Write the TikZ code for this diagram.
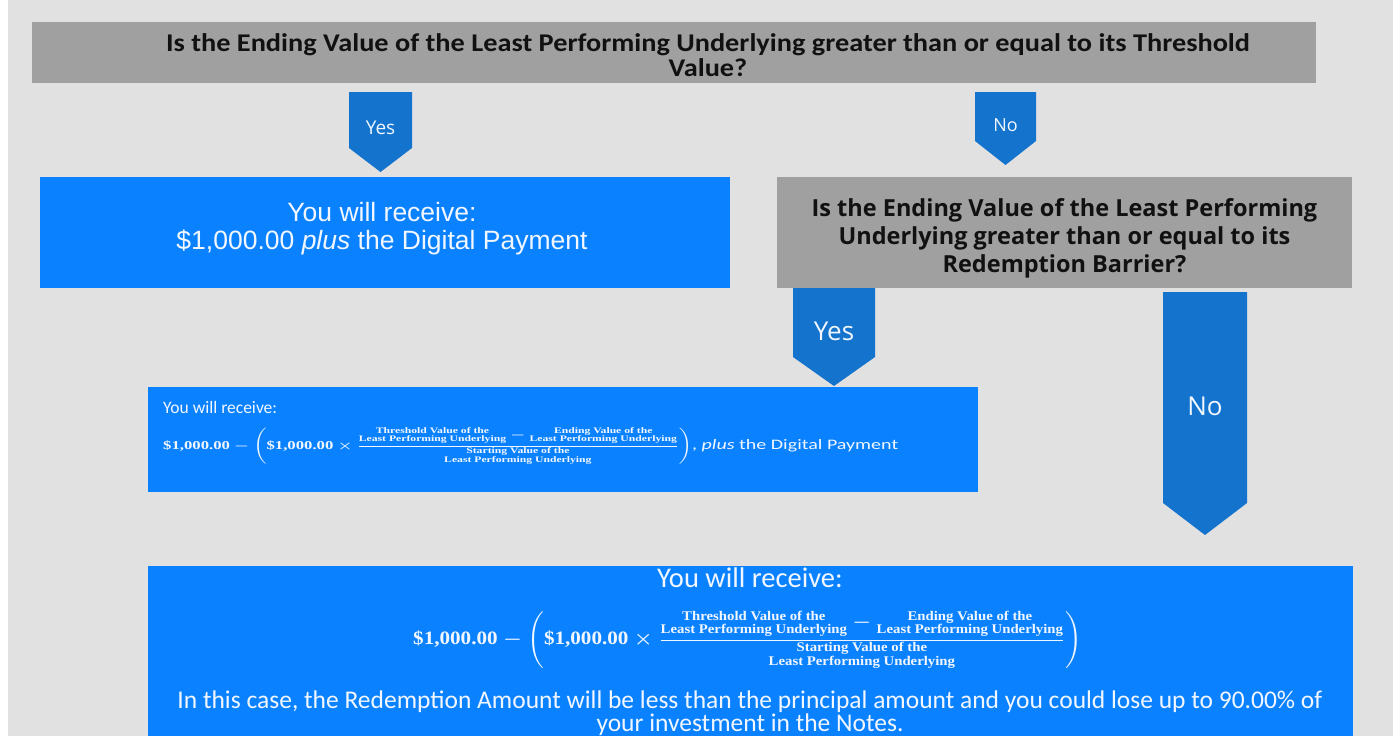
\documentclass[tikz,border=0pt]{standalone}
\usepackage{amsmath}
\usepackage{graphicx}
\usepackage{fontspec}
\setmainfont{Liberation Serif}
\newfontfamily\calib{Carlito}
\newfontfamily\osans{Open Sans}
\newfontfamily\arialf{Liberation Sans}
\definecolor{bgc}{HTML}{E1E1E1}
\definecolor{qgray}{HTML}{A0A0A0}
\definecolor{boxblue}{HTML}{0A82FF}
\definecolor{arrblue}{HTML}{1373CD}
\definecolor{txtw}{HTML}{F2F7FF}
\definecolor{txtk}{HTML}{111111}
\newcommand\twol[1]{{\renewcommand\arraystretch{0.85}\begin{tabular}{@{}c@{}}#1\end{tabular}}}
\newcommand\payformula{%
 {\bfseries\boldmath
 $\text{\$1,000.00}-\left(\text{\$1,000.00}\times
 \dfrac{\text{\scriptsize\twol{Threshold Value of the\\Least Performing Underlying}}-\text{\scriptsize\twol{Ending Value of the\\Least Performing Underlying}}}{\text{\scriptsize\twol{Starting Value of the\\Least Performing Underlying}}}\right)$}}
\newcommand\blockarrow[5]{% xl, xr, ytop, yshaft, ytip
 \fill[arrblue] (#1,#3) -- (#2,#3) -- (#2,#4) -- ({(#1+#2)/2},#5) -- (#1,#4) -- cycle;}
\begin{document}
\begin{tikzpicture}[x=1pt,y=-1pt,
  box/.style={anchor=north west, inner sep=0pt, outer sep=0pt, draw=none},
  qtext/.style={text=txtk, align=center, inner sep=0pt},
  btext/.style={text=txtw, inner sep=0pt},
  alabel/.style={text=txtw, inner sep=0pt, font=\osans}]
\fill[white] (0,0) rectangle (1393,736);
\fill[bgc] (8,0) rectangle (1393,736);
\useasboundingbox (0,0) rectangle (1393,736);

% question 1
\node[box, fill=qgray, minimum width=1284pt, minimum height=61pt] (q1) at (32,22) {};
\node[qtext, font=\calib\bfseries\fontsize{25.5}{24.5}\selectfont] (q1t) at (708,59)
  {\scalebox{1.11}[1]{\begin{tabular}{@{}c@{}}Is the Ending Value of the Least Performing Underlying greater than or equal to its Threshold\\Value?\end{tabular}}};

% yes / no arrows from q1
\blockarrow{349}{412}{92}{148}{172}
\node[alabel, font=\osans\fontsize{19}{21}\selectfont] (y1) at (380.5,128) {Yes};
\blockarrow{975}{1036}{92}{141}{165}
\node[alabel, font=\osans\fontsize{18}{20}\selectfont] (n1) at (1005.5,125) {No};

% box 1
\node[box, fill=boxblue, minimum width=690pt, minimum height=111pt] (b1) at (40,177) {};
\node[btext, align=center, font=\arialf\fontsize{26.5}{28}\selectfont] (b1t) at (382,229)
  {You will receive:\\\$1,000.00 \textit{plus} the Digital Payment};

% question 2
\node[box, fill=qgray, minimum width=575pt, minimum height=111pt] (q2) at (777,177) {};
\node[qtext, font=\osans\bfseries\fontsize{23.5}{28}\selectfont] (q2t) at (1064.5,238)
  {Is the Ending Value of the Least Performing\\Underlying greater than or equal to its\\Redemption Barrier?};

% yes / no arrows from q2
\blockarrow{793}{875}{288}{357}{386}
\node[alabel, font=\osans\fontsize{26}{28}\selectfont] (y2) at (834,331) {Yes};
\blockarrow{1163}{1247}{292}{503}{535}
\node[alabel, font=\osans\fontsize{26}{28}\selectfont] (n2) at (1205,406) {No};

% box 2
\node[box, fill=boxblue, minimum width=830pt, minimum height=105pt] (b2) at (148,387) {};
\node[btext, anchor=west, font=\calib\fontsize{17.5}{20}\selectfont] (b2a) at (163,407) {You will receive:};
\node[btext, anchor=west] (b2f) at (163,446)
  {\resizebox*{735pt}{37pt}{\payformula{\normalfont\calib\fontsize{12}{14}\selectfont, \textit{plus} the Digital Payment}}};

% box 3
\node[box, fill=boxblue, minimum width=1205pt, minimum height=170pt] (b3) at (148,566) {};
\node[btext, font=\calib\fontsize{28.5}{30}\selectfont] (b3a) at (750,578) {You will receive:};
\node[btext, anchor=west] (b3f) at (413,640)
  {\resizebox*{669pt}{58pt}{\payformula}};
\node[btext, align=center, font=\calib\fontsize{25.5}{23}\selectfont] (b3t) at (750,713)
  {In this case, the Redemption Amount will be less than the principal amount and you could lose up to 90.00\% of\\your investment in the Notes.};
\end{tikzpicture}
\end{document}
